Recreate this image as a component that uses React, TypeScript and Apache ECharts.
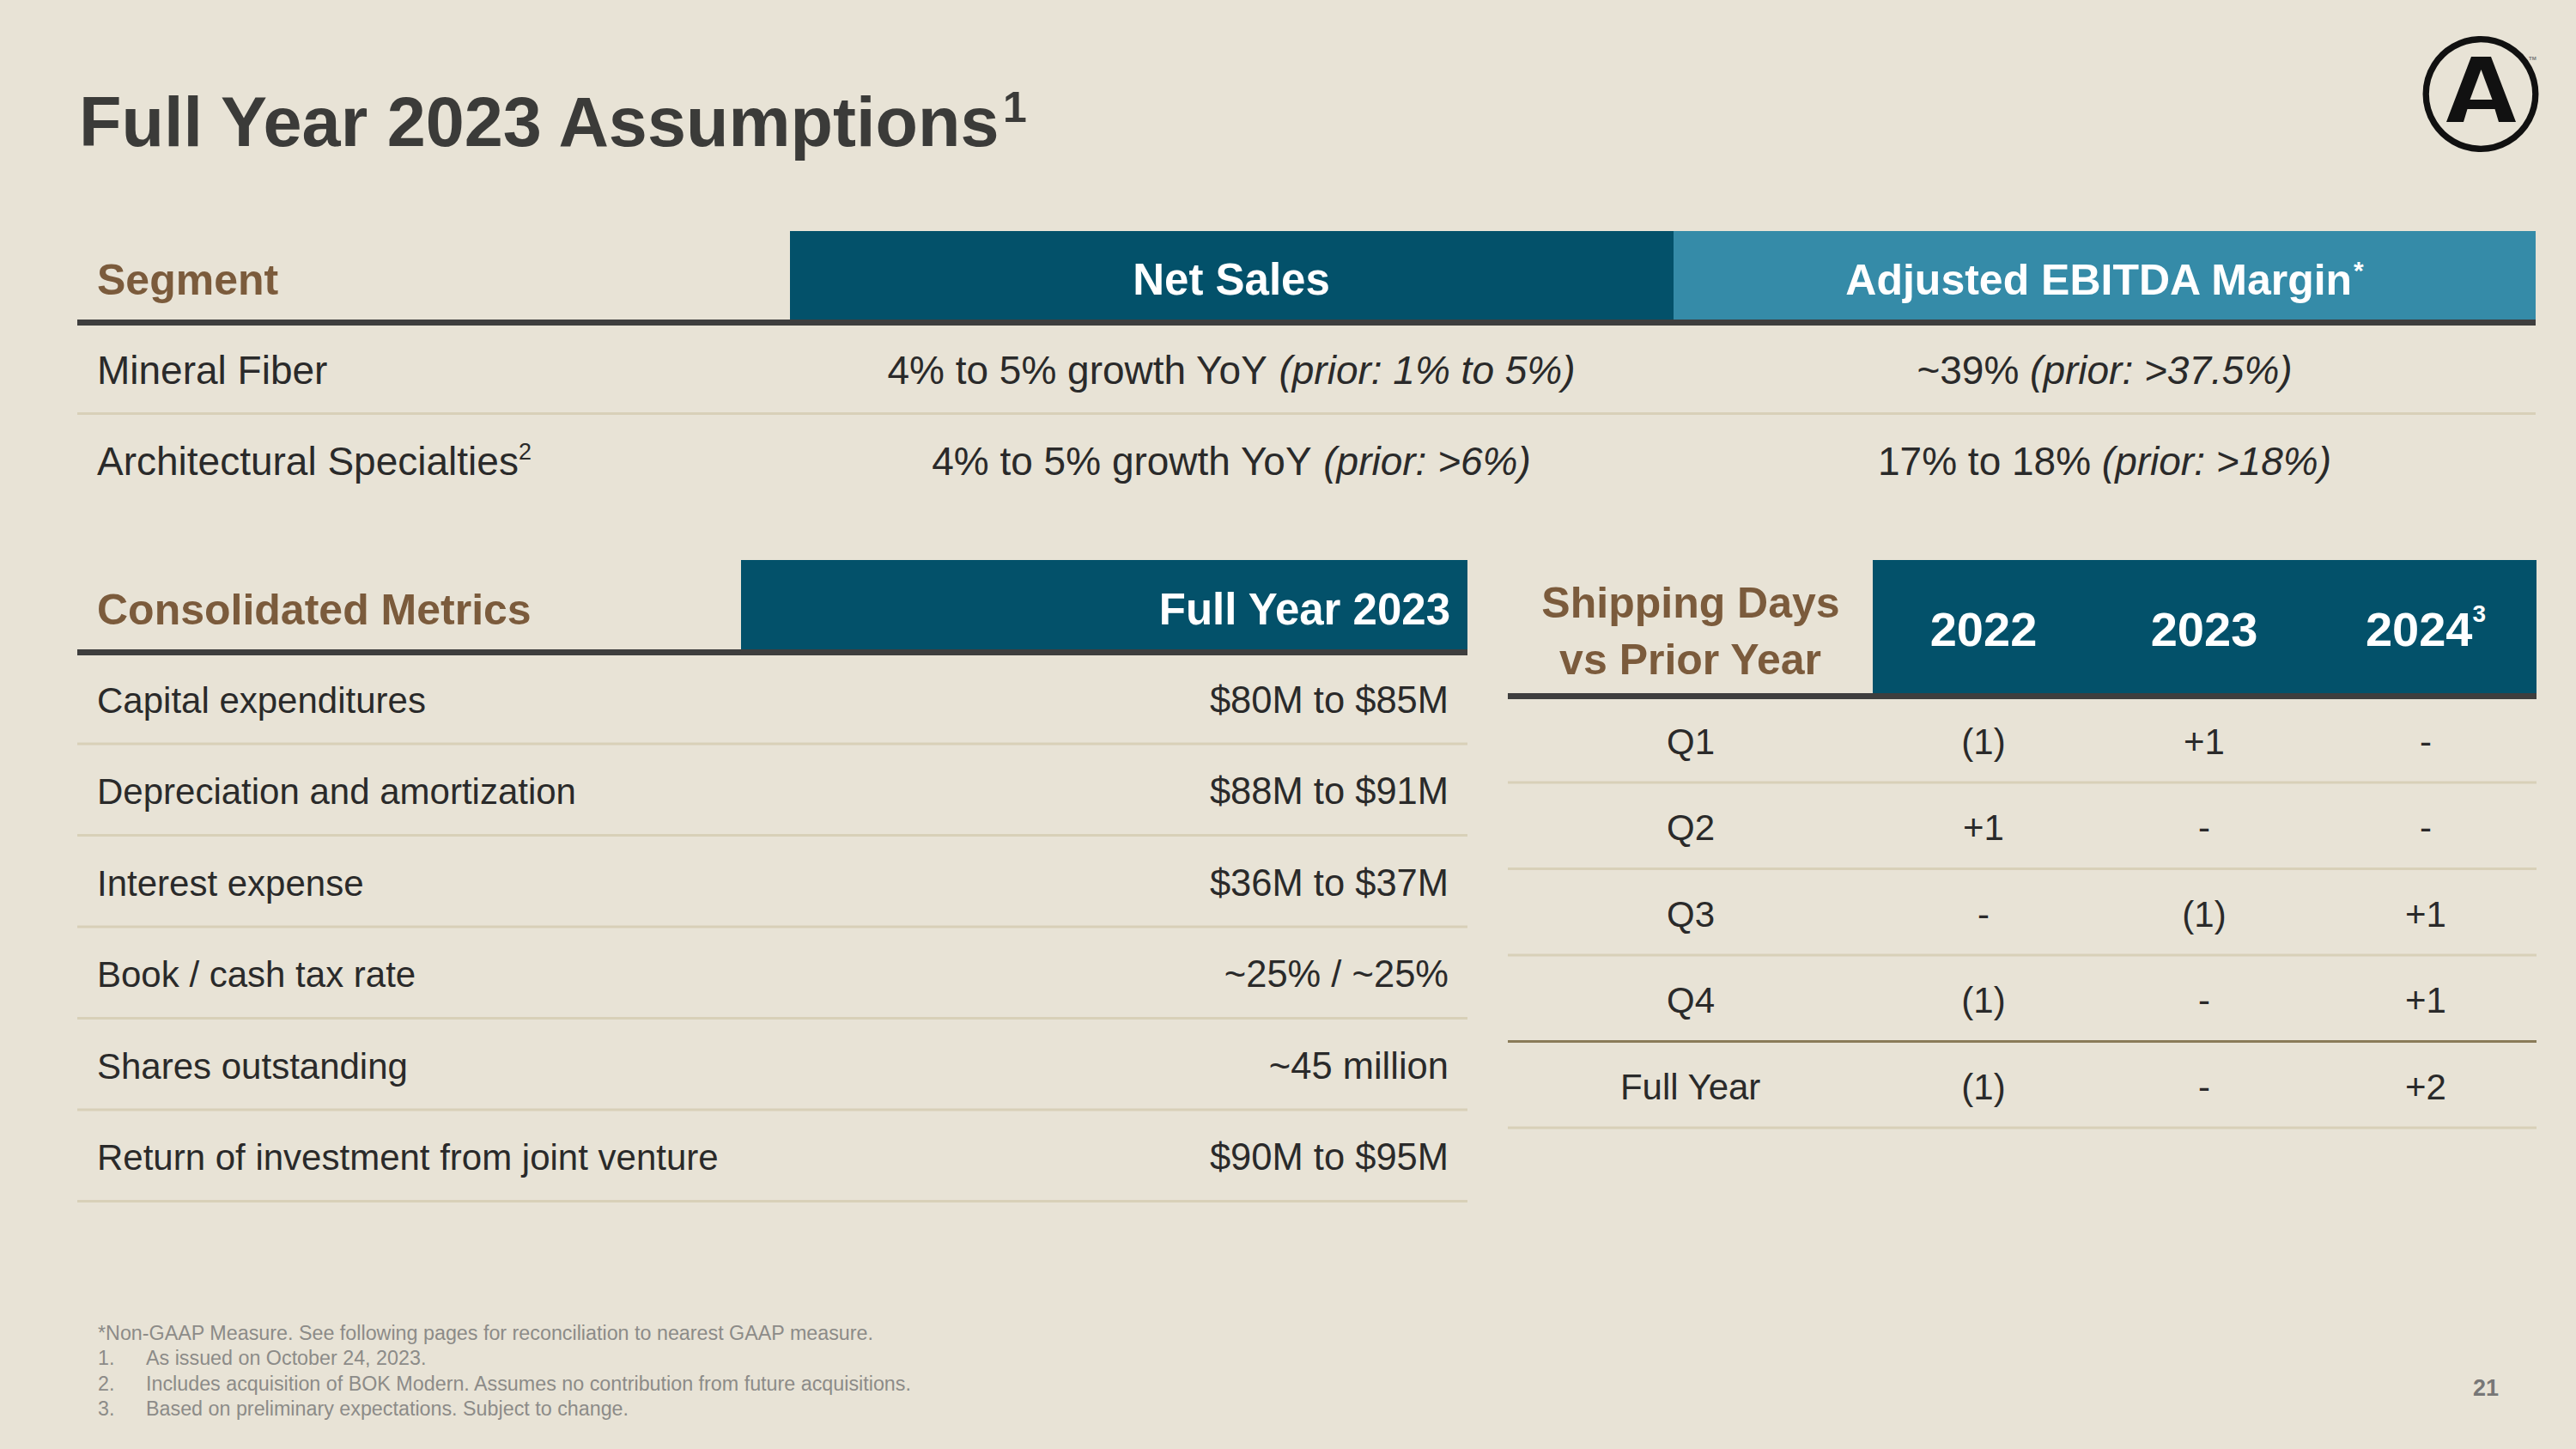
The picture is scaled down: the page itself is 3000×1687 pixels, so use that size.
import React, { useEffect, useRef } from "react";
import * as echarts from "echarts";

const W = 3000;
const H = 1687;
const FONT = "'Liberation Sans', Arial, Helvetica, sans-serif";

const BG = "#E8E3D6";
const DARK = "#2A2A2A";
const TITLE_C = "#3B3B39";
const BROWN = "#7B5B3C";
const TEAL = "#03516A";
const TEAL_L = "#358BA8";
const RULE_DARK = "#3E3E3E";
const RULE_LIGHT = "#D8D0B8";
const RULE_OLIVE = "#8A7B58";
const NOTE_C = "#8C8B88";

// ---------- data ----------
const titleText = "Full Year 2023 Assumptions";
const titleNote = "1";

const segmentHeaders = ["Segment", "Net Sales", "Adjusted EBITDA Margin"];
const segmentHeaderNotes = ["", "", "*"];
const segments = ["Mineral Fiber", "Architectural Specialties"];
const segmentNotes = ["", "2"];
const netSales = ["4% to 5% growth YoY ", "4% to 5% growth YoY "];
const netSalesPrior = ["(prior: 1% to 5%)", "(prior: >6%)"];
const ebitda = ["~39% ", "17% to 18% "];
const ebitdaPrior = ["(prior: >37.5%)", "(prior: >18%)"];

const metricsHeaders = ["Consolidated Metrics", "Full Year 2023"];
const metrics = [
  "Capital expenditures",
  "Depreciation and amortization",
  "Interest expense",
  "Book / cash tax rate",
  "Shares outstanding",
  "Return of investment from joint venture",
];
const metricValues = ["$80M to $85M", "$88M to $91M", "$36M to $37M", "~25% / ~25%", "~45 million", "$90M to $95M"];

const shipHeader = ["Shipping Days", "vs Prior Year"];
const shipYears = ["2022", "2023", "2024"];
const shipYearNotes = ["", "", "3"];
const shipPeriods = ["Q1", "Q2", "Q3", "Q4", "Full Year"];
const ship2022 = ["(1)", "+1", "-", "(1)", "(1)"];
const ship2023 = ["+1", "-", "(1)", "-", "-"];
const ship2024 = ["-", "-", "+1", "+1", "+2"];

const footnoteStar = "*Non-GAAP Measure. See following pages for reconciliation to nearest GAAP measure.";
const footnoteNums = ["1.", "2.", "3."];
const footnotes = [
  "As issued on October 24, 2023.",
  "Includes acquisition of BOK Modern. Assumes no contribution from future acquisitions.",
  "Based on preliminary expectations. Subject to change.",
];
const pageNumber = "21";

// ---------- helpers ----------
type Part = { t: string; size: number; weight?: string | number; italic?: boolean; color?: string; rise?: number };
let ctx: CanvasRenderingContext2D | null = null;
function measure(p: Part): number {
  if (!ctx) ctx = document.createElement("canvas").getContext("2d");
  if (!ctx) return p.t.length * p.size * 0.5;
  ctx.font = `${p.italic ? "italic" : "normal"} ${p.weight ?? "normal"} ${p.size}px ${FONT}`;
  return ctx.measureText(p.t).width;
}
function run(x: number, base: number, align: "left" | "center" | "right", parts: Part[], color: string): any[] {
  const ws = parts.map(measure);
  const total = ws.reduce((a, b) => a + b, 0);
  let cx = align === "left" ? x : align === "center" ? x - total / 2 : x - total;
  return parts
    .map((p, i) => {
      const el = {
        type: "text",
        x: cx,
        y: base - (p.rise || 0) - 0.3465 * p.size,
        silent: true,
        style: {
          text: p.t,
          fill: p.color || color,
          fontSize: p.size,
          fontWeight: p.weight || "normal",
          fontStyle: p.italic ? "italic" : "normal",
          fontFamily: FONT,
          align: "left",
          verticalAlign: "middle",
        },
      };
      cx += ws[i];
      return el;
    })
    .filter((e) => e.style.text !== "");
}
function rect(x1: number, y1: number, x2: number, y2: number, fill: string): any {
  return { type: "rect", silent: true, shape: { x: x1, y: y1, width: x2 - x1, height: y2 - y1 }, style: { fill } };
}

function buildElements(): any[] {
  const els: any[] = [];
  const texts: any[] = [];

  // Title
  texts.push(
    ...run(92, 170, "left", [
      { t: titleText, size: 81, weight: "bold" },
      { t: titleNote, size: 50, weight: "bold", rise: 28 },
    ], TITLE_C)
  );

  // Logo
  els.push({ type: "circle", silent: true, shape: { cx: 2889, cy: 109.5, r: 63.8 }, style: { fill: "none", stroke: "#111111", lineWidth: 7.3 } });
  els.push({
    type: "polygon",
    silent: true,
    shape: { points: [[2849, 142], [2878, 66], [2901, 66], [2930, 142], [2910, 142], [2905.5, 127], [2873.5, 127], [2869, 142]] },
    style: { fill: "#111111" },
  });
  els.push({ type: "polygon", silent: true, shape: { points: [[2889.5, 81], [2876.5, 116], [2902.5, 116]] }, style: { fill: BG } });
  texts.push({ type: "text", x: 2945, y: 68, silent: true, style: { text: "TM", fill: "#777", fontSize: 6, fontFamily: FONT, fontWeight: "bold", align: "left", verticalAlign: "middle" } });

  // ---------- Table 1: Segments ----------
  const t1Cols = [113, 1434, 2451];
  els.push(rect(920, 269, 1949, 373, TEAL));
  els.push(rect(1949, 269, 2953, 373, TEAL_L));
  els.push(rect(90, 372, 2953, 379, RULE_DARK));
  texts.push(...run(t1Cols[0], 343, "left", [{ t: segmentHeaders[0], size: 50, weight: "bold" }], BROWN));
  texts.push(...run(t1Cols[1], 343, "center", [{ t: segmentHeaders[1], size: 51, weight: "bold" }], "#FFFFFF"));
  texts.push(
    ...run(t1Cols[2], 343, "center", [
      { t: segmentHeaders[2], size: 50, weight: "bold" },
      { t: segmentHeaderNotes[2], size: 30, weight: "bold", rise: 18 },
    ], "#FFFFFF")
  );
  const t1Base = [447, 553];
  segments.forEach((s, i) => {
    const b = t1Base[i];
    texts.push(...run(t1Cols[0], b, "left", [{ t: s, size: 46 }, { t: segmentNotes[i], size: 27, rise: 18 }], DARK));
    texts.push(...run(t1Cols[1], b, "center", [{ t: netSales[i], size: 46 }, { t: netSalesPrior[i], size: 46, italic: true }], DARK));
    texts.push(...run(t1Cols[2], b, "center", [{ t: ebitda[i], size: 46 }, { t: ebitdaPrior[i], size: 46, italic: true }], DARK));
  });
  els.push(rect(90, 480, 2953, 483, RULE_LIGHT));

  // ---------- Table 2: Consolidated metrics ----------
  els.push(rect(863, 652, 1709, 757, TEAL));
  els.push(rect(90, 756, 1709, 763, RULE_DARK));
  texts.push(...run(113, 727, "left", [{ t: metricsHeaders[0], size: 50, weight: "bold" }], BROWN));
  texts.push(...run(1690, 727, "right", [{ t: metricsHeaders[1], size: 51, weight: "bold" }], "#FFFFFF"));
  const t2Step = 106.5;
  metrics.forEach((m, i) => {
    const b = 830 + t2Step * i;
    texts.push(...run(113, b, "left", [{ t: m, size: 42 }], DARK));
    texts.push(...run(1687, b, "right", [{ t: metricValues[i], size: 43.5 }], DARK));
    const ly = 866 + t2Step * i;
    els.push(rect(90, ly - 1.5, 1709, ly + 1.5, RULE_LIGHT));
  });

  // ---------- Table 3: Shipping days ----------
  const t3Label = 1969;
  const t3Cols = [2310, 2567, 2825];
  els.push(rect(2181, 652, 2954, 808, TEAL));
  els.push(rect(1756, 807, 2954, 814, RULE_DARK));
  texts.push(...run(t3Label, 719, "center", [{ t: shipHeader[0], size: 50, weight: "bold" }], BROWN));
  texts.push(...run(t3Label, 785, "center", [{ t: shipHeader[1], size: 50, weight: "bold" }], BROWN));
  shipYears.forEach((y, j) => {
    texts.push(
      ...run(t3Cols[j], 752, "center", [
        { t: y, size: 56, weight: "bold" },
        { t: shipYearNotes[j], size: 28, weight: "bold", rise: 28 },
      ], "#FFFFFF")
    );
  });
  const shipCols = [ship2022, ship2023, ship2024];
  const t3Step = 100.5;
  shipPeriods.forEach((p, i) => {
    const b = 878 + t3Step * i;
    texts.push(...run(t3Label, b, "center", [{ t: p, size: 42 }], DARK));
    shipCols.forEach((col, j) => {
      texts.push(...run(t3Cols[j], b, "center", [{ t: col[i], size: 42 }], DARK));
    });
    const ly = 911 + t3Step * i;
    els.push(rect(1756, ly - 1.5, 2954, ly + 1.5, i === 3 ? RULE_OLIVE : RULE_LIGHT));
  });

  // ---------- Footnotes ----------
  texts.push(...run(114, 1560, "left", [{ t: footnoteStar, size: 23.3 }], NOTE_C));
  footnotes.forEach((f, i) => {
    const b = 1589.5 + 29.5 * i;
    texts.push(...run(114, b, "left", [{ t: footnoteNums[i], size: 23.3 }], NOTE_C));
    texts.push(...run(170, b, "left", [{ t: f, size: 23.3 }], NOTE_C));
  });
  texts.push(...run(2910, 1625, "right", [{ t: pageNumber, size: 27, weight: "bold" }], "#777777"));

  return els.concat(texts);
}

export default function App() {
  const ref = useRef<HTMLDivElement>(null);
  useEffect(() => {
    if (!ref.current) return;
    const chart = echarts.init(ref.current, undefined, { renderer: "svg", width: W, height: H });
    chart.setOption({
      animation: false,
      backgroundColor: BG,
      graphic: { elements: buildElements() },
    });
    return () => chart.dispose();
  }, []);
  return <div ref={ref} style={{ position: "fixed", left: 0, top: 0, width: W, height: H }} />;
}
